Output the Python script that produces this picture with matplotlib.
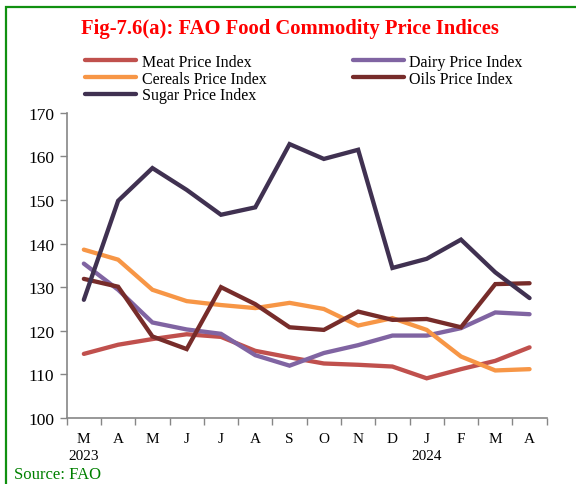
import matplotlib
matplotlib.use("Agg")
import matplotlib.pyplot as plt
from matplotlib.patches import Rectangle
from matplotlib.ticker import FixedLocator

plt.rcParams['font.family'] = ['Liberation Serif', 'DejaVu Serif']

months = ["M", "A", "M", "J", "J", "A", "S", "O", "N", "D", "J", "F", "M", "A"]
years = ["2023", "", "", "", "", "", "", "", "", "", "2024", "", "", ""]

meat = [114.7, 116.8, 118.1, 119.2, 118.6, 115.4, 113.9, 112.5, 112.2, 111.8, 109.1, 111.2, 113.1, 116.2]
dairy = [135.4, 129.4, 121.9, 120.3, 119.3, 114.4, 112.0, 114.9, 116.7, 118.9, 118.9, 120.6, 124.2, 123.8]
cereals = [138.6, 136.3, 129.4, 126.8, 125.9, 125.2, 126.4, 125.0, 121.2, 122.9, 120.2, 114.1, 110.9, 111.2]
oils = [131.9, 130.1, 118.7, 115.8, 130.0, 126.1, 120.8, 120.2, 124.4, 122.5, 122.7, 120.8, 130.7, 130.9]
sugar = [127.1, 149.8, 157.3, 152.3, 146.6, 148.3, 162.8, 159.4, 161.5, 134.4, 136.5, 140.9, 133.4, 127.5]

series = [
    ("Meat Price Index", meat, "#C0504D"),
    ("Dairy Price Index", dairy, "#8064A2"),
    ("Cereals Price Index", cereals, "#F79646"),
    ("Oils Price Index", oils, "#772C2A"),
    ("Sugar Price Index", sugar, "#403151"),
]

W, H = 576, 485
fig = plt.figure(figsize=(W / 100, H / 100), dpi=100)
ax = fig.add_axes([66.7 / W, 1 - 419 / H, (546.7 - 66.7) / W, (419 - 113.7) / H])

x = list(range(len(months)))
handles = {}
for name, vals, col in series:
    (ln,) = ax.plot(x, vals, color=col, lw=3.1, solid_capstyle='round', solid_joinstyle='miter', label=name)
    handles[name] = ln

ax.set_xlim(-0.5, len(months) - 0.5)
ax.set_ylim(100, 170)
ax.set_yticks(range(100, 171, 10))
ax.set_xticks(x)
ax.set_xticklabels([m + "\n" + y if y else m for m, y in zip(months, years)], fontsize=11, linespacing=1.45)
ax.xaxis.set_minor_locator(FixedLocator([i - 0.5 for i in range(len(months) + 1)]))
ax.tick_params(axis='x', which='major', length=0, pad=10)
ax.tick_params(axis='x', which='minor', length=5, color='#868686', width=1)
ax.tick_params(axis='y', length=5, color='#868686', width=1, labelsize=12.5, pad=4)
for lbl in ax.get_xticklabels():
    lbl.set_verticalalignment('top')
for s in ['top', 'right']:
    ax.spines[s].set_visible(False)
for s in ['left', 'bottom']:
    ax.spines[s].set_color('#868686')
    ax.spines[s].set_linewidth(1.2)

order = ["Meat Price Index", "Cereals Price Index", "Sugar Price Index", "Dairy Price Index", "Oils Price Index"]
fig.legend([handles[n] for n in order], order, ncol=2, frameon=False,
           loc='upper left', bbox_to_anchor=(85 / W, 1 - 55 / H),
           fontsize=11.5, handlelength=3.2, handletextpad=0.35, columnspacing=5.4,
           labelspacing=0.04, borderaxespad=0, borderpad=0)

fig.text(290 / W, 1 - 29 / H, "Fig-7.6(a): FAO Food Commodity Price Indices", color='#FF0000',
         fontsize=14.9, fontweight='bold', ha='center', va='center')
fig.text(14 / W, 1 - 475 / H, "Source: FAO", color='#008000', fontsize=12, ha='left', va='center')

fig.patches.append(Rectangle((6 / W, -0.1), 1.2, 1 - 8 / H + 0.1, transform=fig.transFigure,
                             fill=False, edgecolor='#109010', lw=1.6))

fig.savefig("out.png", dpi=100)
